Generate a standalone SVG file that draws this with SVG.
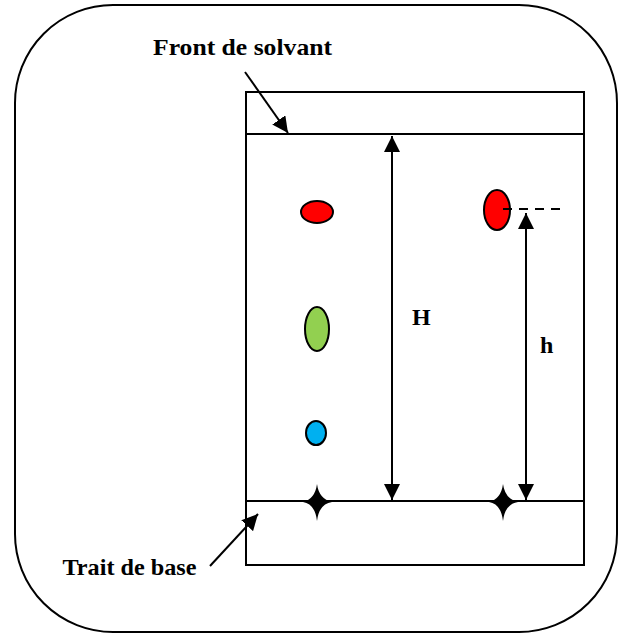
<svg xmlns="http://www.w3.org/2000/svg" width="630" height="637" viewBox="0 0 630 637">
<style>
.ln{stroke:#000;stroke-width:2;fill:none}
.sp{stroke:#000;stroke-width:2}
.lbl{font-family:"Liberation Serif",serif;font-weight:bold;font-size:24px;fill:#000}
</style>
<defs>
<marker id="ab" viewBox="0 0 10 10" refX="10" refY="5" markerWidth="16" markerHeight="16" markerUnits="userSpaceOnUse" orient="auto-start-reverse">
<path d="M0,0 L10,5 L0,10 z" fill="#000"/>
</marker>
</defs>
<rect width="630" height="637" fill="#fff"/>
<g id="frame"><rect x="15" y="5" width="602" height="627" rx="98" ry="98" class="ln"/></g>
<g id="plate">
<rect x="246" y="92" width="338" height="473" class="ln"/>
<line x1="246" y1="134" x2="584" y2="134" class="ln"/>
<line x1="246" y1="501" x2="584" y2="501" class="ln"/>
</g>
<g id="spots">
<ellipse cx="317" cy="212" rx="16" ry="11" fill="#f00" class="sp"/>
<ellipse cx="317" cy="329" rx="12" ry="22" fill="#92d050" class="sp"/>
<ellipse cx="316" cy="433" rx="10" ry="12" fill="#00b0f0" class="sp"/>
<ellipse cx="497" cy="210" rx="13" ry="20" fill="#f00" class="sp"/>
</g>
<g id="stars">
<path d="M317,484 Q319,499 332,502 Q319,504 317,521 Q315,504 303,502 Q315,499 317,484 z" fill="#000"/>
<path d="M503,484 Q505,499 518,502 Q505,504 503,521 Q501,504 489,502 Q501,499 503,484 z" fill="#000"/>
</g>
<g id="connectors">
<line x1="503" y1="209" x2="566" y2="209" stroke="#000" stroke-width="2" stroke-dasharray="9,7"/>
<line x1="392" y1="136" x2="392" y2="500" class="ln" marker-start="url(#ab)" marker-end="url(#ab)"/>
<line x1="526" y1="213" x2="526" y2="500" class="ln" marker-start="url(#ab)" marker-end="url(#ab)"/>
<line x1="245" y1="72" x2="288" y2="133" class="ln" marker-end="url(#ab)"/>
<line x1="210" y1="566" x2="258" y2="514" class="ln" marker-end="url(#ab)"/>
</g>
<g id="labels">
<text x="153" y="55" class="lbl" textLength="179" lengthAdjust="spacingAndGlyphs">Front de solvant</text>
<text x="62.5" y="575" class="lbl" textLength="134" lengthAdjust="spacingAndGlyphs">Trait de base</text>
<text x="412" y="325" class="lbl">H</text>
<text x="540" y="353" class="lbl">h</text>
</g>
</svg>
